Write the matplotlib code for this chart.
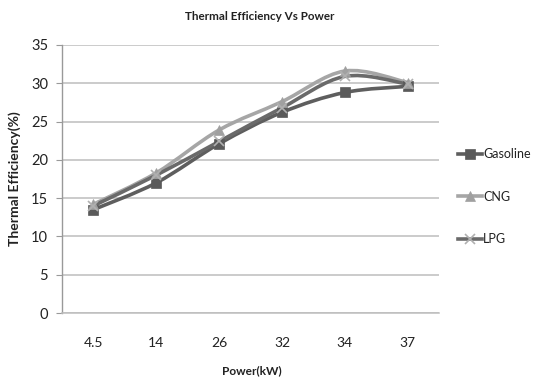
import matplotlib
matplotlib.use("Agg")
import matplotlib.pyplot as plt
from matplotlib.path import Path
from matplotlib.patches import PathPatch
from matplotlib.lines import Line2D
import numpy as np

categories = ["4.5", "14", "26", "32", "34", "37"]
gasoline = [13.5, 17.0, 22.1, 26.2, 28.8, 29.6]
cng = [14.2, 18.3, 23.9, 27.6, 31.6, 30.1]
lpg = [14.0, 18.0, 22.4, 26.8, 30.9, 29.9]

plt.rcParams['font.family'] = ['Lato', 'DejaVu Sans']

fig = plt.figure(figsize=(5.41, 3.8), dpi=100)
ax = fig.add_axes([0.1146, 0.1763, 0.697, 0.7053])

x = np.arange(len(categories))


def smooth_path(xs, ys):
    # Bezier (Catmull-Rom style) smoothing like spreadsheet "smoothed line"
    pts = list(zip(xs, ys))
    verts = [pts[0]]
    codes = [Path.MOVETO]
    n = len(pts)
    for i in range(n - 1):
        p0 = pts[i - 1] if i > 0 else pts[i]
        p1 = pts[i]
        p2 = pts[i + 1]
        p3 = pts[i + 2] if i + 2 < n else pts[i + 1]
        c1 = (p1[0] + (p2[0] - p0[0]) / 6, p1[1] + (p2[1] - p0[1]) / 6)
        c2 = (p2[0] - (p3[0] - p1[0]) / 6, p2[1] - (p3[1] - p1[1]) / 6)
        verts += [c1, c2, p2]
        codes += [Path.CURVE4] * 3
    return Path(verts, codes)


series = [
    ("Gasoline", gasoline, "#5e5e5e", "s", "#5a5a5a", 7),
    ("CNG", cng, "#a6a6a6", "^", "#a0a0a0", 7),
    ("LPG", lpg, "#6a6a6a", "x", "#b0b0b0", 7),
]

handles = []
for name, vals, lc, mk, mc, ms in series:
    patch = PathPatch(smooth_path(x, vals), facecolor="none", edgecolor=lc,
                      lw=2.6, zorder=3, capstyle="round", joinstyle="round")
    ax.add_patch(patch)
for name, vals, lc, mk, mc, ms in series:
    ax.plot(x, vals, linestyle="none", marker=mk, color=mc, markersize=ms,
            markeredgewidth=1.2 if mk == "x" else 0.5, markeredgecolor=mc, zorder=4)
    handles.append(Line2D([0], [0], color=lc, lw=2.6, marker=mk, markersize=ms,
                          markerfacecolor=mc, markeredgecolor=mc,
                          markeredgewidth=1.2 if mk == "x" else 0.5))

ax.set_xlim(-0.5, len(categories) - 0.5)
ax.set_ylim(0, 35)
ax.set_yticks(np.arange(0, 36, 5))
ax.set_xticks(x)
ax.set_xticklabels(categories)
ax.yaxis.grid(True, color="#bdbdbd", lw=1.1)
ax.set_axisbelow(True)
for s in ["top", "right"]:
    ax.spines[s].set_visible(False)
ax.spines["bottom"].set_color("#bdbdbd")
ax.spines["bottom"].set_linewidth(1.1)
ax.spines["left"].set_color("#999999")
ax.spines["left"].set_linewidth(1.0)
ax.tick_params(axis="y", length=4, color="#999999", pad=6, labelsize=10.5, labelcolor="#222222")
ax.tick_params(axis="x", length=0, pad=17, labelsize=10, labelcolor="#222222")

ax.set_title("Thermal Efficiency Vs Power", fontsize=8.4, fontweight="bold",
             color="#222222", x=(260 - 62) / 377, pad=18)
ax.set_xlabel("Power(kW)", fontsize=8.6, fontweight="bold", color="#222222")
ax.xaxis.set_label_coords((252 - 62) / 377, -0.195)
ax.set_ylabel("Thermal Efficiency(%)", fontsize=10, fontweight="bold", color="#222222")
ax.yaxis.set_label_coords(-0.108, 0.5)

leg = fig.legend(handles, [s[0] for s in series], loc="upper left",
                 bbox_to_anchor=(0.826, 0.64), frameon=False, fontsize=9,
                 handlelength=1.9, handletextpad=0.1, labelspacing=2.45,
                 labelcolor="#222222")

fig.savefig("out.png", dpi=100, facecolor="white")
